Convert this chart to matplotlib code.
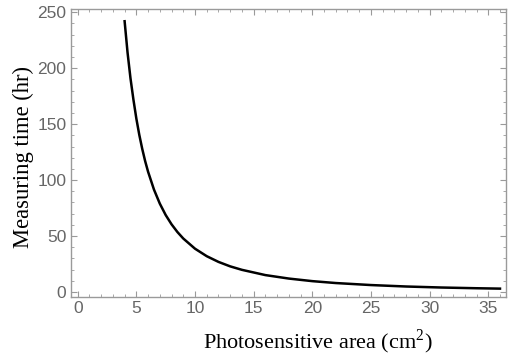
import matplotlib
matplotlib.use('Agg')
import matplotlib.pyplot as plt
from matplotlib.ticker import MultipleLocator

# valores
area = [4.0, 4.25, 4.5, 4.75, 5.0, 5.25, 5.5, 5.75, 6.0, 6.5, 7.0, 7.5, 8.0, 8.5, 9.0,
        10.0, 11.0, 12.0, 13.0, 14.0, 16.0, 18.0, 20.0, 22.0, 25.0, 28.0, 31.0, 34.0, 36.0]
tiempo = [242, 214, 191, 172, 155, 140.5, 128, 117, 107.5, 91.6, 79, 68.8, 60.5, 53.6, 47.8,
          38.7, 32, 26.9, 22.9, 19.8, 15.1, 12, 9.7, 8, 6.2, 4.9, 4, 3.35, 3]

gris = '#9a9a9a'
plt.rcParams['mathtext.fontset'] = 'custom'
plt.rcParams['mathtext.rm'] = 'Liberation Serif'

fig = plt.figure(figsize=(5.12, 3.57), dpi=100)
ax = fig.add_axes([0.138, 0.168, 0.85, 0.807])
ax.plot(area, tiempo, color='black', lw=1.8)

ax.set_xlim(-0.6, 36.5)
ax.set_ylim(-4.5, 253)
ax.xaxis.set_major_locator(MultipleLocator(5))
ax.xaxis.set_minor_locator(MultipleLocator(1))
ax.yaxis.set_major_locator(MultipleLocator(50))
ax.yaxis.set_minor_locator(MultipleLocator(10))

for s in ax.spines.values():
    s.set_color(gris)
    s.set_linewidth(1.0)
ax.tick_params(which='both', direction='in', top=True, right=True, color=gris,
               labelcolor='#666666', labelsize=12.5)
ax.tick_params(which='major', length=4, width=0.8, pad=3)
ax.tick_params(which='minor', length=2.2, width=0.6)
for lab in ax.get_xticklabels() + ax.get_yticklabels():
    lab.set_family('Liberation Sans')

ax.set_xlabel('Photosensitive area (cm$^\\mathrm{2}$)', family='Liberation Serif',
              fontsize=16)
ax.set_ylabel('Measuring time (hr)', family='Liberation Serif', fontsize=16.3)
ax.xaxis.set_label_coords(0.568, -0.104)
ax.yaxis.set_label_coords(-0.085, 0.485)

fig.savefig('out.png', dpi=100)
